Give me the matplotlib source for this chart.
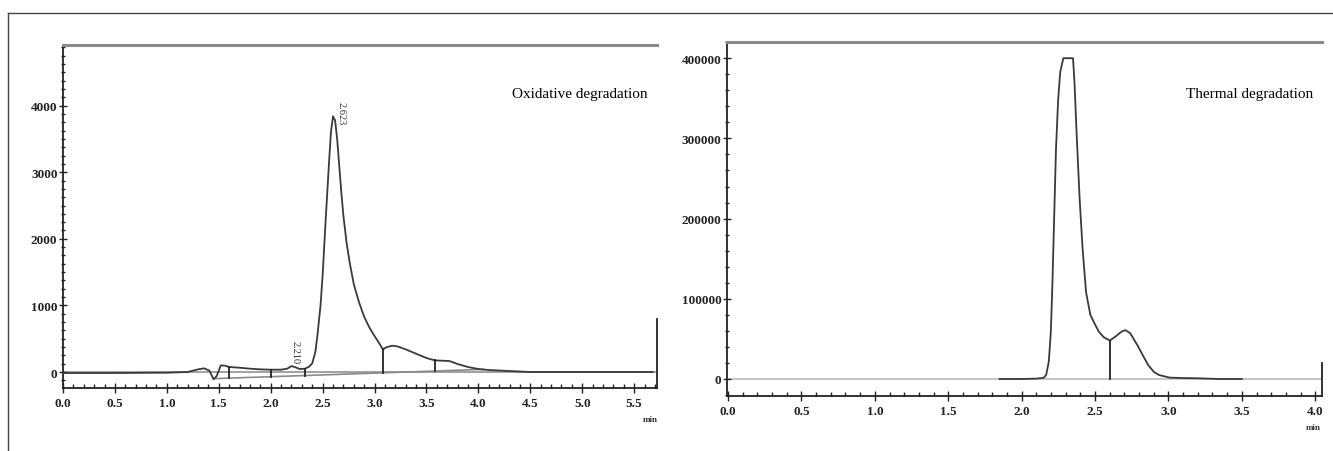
import numpy as np
import matplotlib
matplotlib.use("Agg")
import matplotlib.pyplot as plt
from matplotlib.ticker import MultipleLocator
from matplotlib.lines import Line2D

# ---- Oxidative degradation (left) ----
ox_time = [0.00, 0.50, 1.00, 1.20, 1.30, 1.36, 1.41, 1.45, 1.48, 1.52,
           1.56, 1.60, 1.70, 1.80, 1.90, 2.00, 2.10, 2.16, 2.20, 2.24,
           2.28, 2.33, 2.37, 2.40, 2.43, 2.45, 2.48, 2.50, 2.53, 2.56,
           2.58, 2.60, 2.62, 2.64, 2.66, 2.68, 2.70, 2.73, 2.76, 2.80,
           2.85, 2.90, 2.95, 3.00, 3.05, 3.08, 3.12, 3.17, 3.22, 3.30,
           3.40, 3.50, 3.58, 3.65, 3.72, 3.80, 3.90, 4.00, 4.10, 4.30,
           4.50, 5.00, 5.68]
ox_signal = [-15, -15, -10, 0, 40, 55, 20, -110, -60, 100,
             95, 75, 65, 50, 40, 35, 35, 50, 90, 70,
             45, 50, 80, 130, 300, 550, 1000, 1450, 2300, 3100,
             3600, 3840, 3780, 3500, 3100, 2700, 2350, 1950, 1650, 1320,
             1050, 830, 670, 540, 420, 340, 375, 395, 385, 340,
             275, 210, 175, 170, 165, 120, 75, 45, 30, 15,
             0, 0, 0]
ox_base_time = [1.45, 4.05]
ox_base_signal = [-100, 40]
ox_drop_time = [1.60, 2.00, 2.33, 3.08, 3.58]
ox_peak_labels = ["2.210", "2.623"]
ox_peak_time = [2.235, 2.675]
ox_peak_label_y = [300, 3890]
ox_yticks = [0, 1000, 2000, 3000, 4000]
ox_xticks = [0.0, 0.5, 1.0, 1.5, 2.0, 2.5, 3.0, 3.5, 4.0, 4.5, 5.0, 5.5]

# ---- Thermal degradation (right) ----
th_time = [1.85, 2.00, 2.10, 2.15, 2.167, 2.185, 2.199, 2.21, 2.222, 2.234,
           2.249, 2.263, 2.284, 2.35, 2.36, 2.374, 2.395, 2.415, 2.439, 2.468,
           2.50, 2.526, 2.56, 2.60, 2.64, 2.68, 2.707, 2.74, 2.789, 2.83,
           2.862, 2.90, 2.935, 3.008, 3.10, 3.20, 3.35, 3.50]
th_signal = [0, 0, 500, 1500, 5000, 21600, 59000, 121000, 204000, 287000,
             349000, 383000, 400000, 400000, 370000, 308000, 225000, 163000, 108000, 80000,
             68000, 59000, 52000, 48000, 53000, 59000, 61000, 57000, 42000, 28000,
             17400, 9000, 5000, 1700, 1200, 900, 0, 0]
th_drop_time = [2.60]
th_yticks = [0, 100000, 200000, 300000, 400000]
th_xticks = [0.0, 0.5, 1.0, 1.5, 2.0, 2.5, 3.0, 3.5, 4.0]

SERIF = ["Liberation Serif", "DejaVu Serif"]
CURVE = "#3a3a3a"

fig = plt.figure(figsize=(13.33, 4.52), dpi=100)

# outer frame lines (top and left)
fig.add_artist(Line2D([8 / 1333, 1.0], [1 - 14 / 452, 1 - 14 / 452],
                      transform=fig.transFigure, color="#444444", lw=1.0))
fig.add_artist(Line2D([8 / 1333, 8 / 1333], [0.0, 1 - 14 / 452],
                      transform=fig.transFigure, color="#444444", lw=1.0))

ax1 = fig.add_axes([63 / 1333, 1 - 389 / 452, 594 / 1333, 343 / 452])
ax2 = fig.add_axes([727 / 1333, 1 - 397 / 452, 595 / 1333, 354 / 452])


def style(ax, xticks, yticks, xminor, yminor):
    ax.set_xticks(xticks)
    ax.set_xticklabels([f"{v:.1f}" for v in xticks])
    ax.set_yticks(yticks)
    ax.set_yticklabels([str(v) for v in yticks])
    ax.xaxis.set_minor_locator(MultipleLocator(xminor))
    ax.yaxis.set_minor_locator(MultipleLocator(yminor))
    ax.tick_params(axis="x", which="major", direction="inout", length=7,
                   width=1.0, color="#222222", pad=3)
    ax.tick_params(axis="x", which="minor", direction="in", length=3,
                   width=1.0, color="#222222")
    ax.tick_params(axis="y", which="major", direction="inout", length=6,
                   width=1.0, color="#222222", pad=1)
    ax.tick_params(axis="y", which="minor", direction="inout", length=3,
                   width=1.0, color="#222222")
    for lab in ax.get_xticklabels() + ax.get_yticklabels():
        lab.set_family(SERIF)
        lab.set_fontsize(9.5)
        lab.set_fontweight("bold")
        lab.set_color("#222222")
    ax.spines["left"].set_color("#222222")
    ax.spines["left"].set_linewidth(1.3)
    ax.spines["bottom"].set_color("#222222")
    ax.spines["bottom"].set_linewidth(1.3)
    ax.spines["top"].set_color("#8a8a8a")
    ax.spines["top"].set_linewidth(2.2)
    ax.spines["right"].set_color("#222222")
    ax.spines["right"].set_linewidth(1.3)


# ---- left panel ----
ax1.set_xlim(0.0, 5.72)
ax1.set_ylim(-240, 4910)
ax1.axhline(0, color="#9a9a9a", lw=1.3, zorder=1)
ax1.plot(ox_base_time, ox_base_signal, color="#8a8a8a", lw=1.2, zorder=2)
ax1.plot(ox_time, ox_signal, color=CURVE, lw=1.3, zorder=3)
for t in ox_drop_time:
    top = np.interp(t, ox_time, ox_signal)
    bot = np.interp(t, ox_base_time, ox_base_signal)
    ax1.plot([t, t], [bot, top], color="#222222", lw=1.3, zorder=3)
for lab, t, y in zip(ox_peak_labels, ox_peak_time, ox_peak_label_y):
    ax1.text(t, y, lab, rotation=-90, ha="center", va="center",
             fontsize=7.5, family=SERIF, color="#333333")
ax1.text(0.985, 0.86, "Oxidative degradation", transform=ax1.transAxes,
         ha="right", va="center", fontsize=11, family=SERIF, color="#000000")
style(ax1, ox_xticks, ox_yticks, 0.1, 125)
ax1.spines["right"].set_bounds(-240, 800)

# ---- right panel ----
ax2.set_xlim(-0.007, 4.046)
ax2.set_ylim(-21200, 420200)
ax2.axhline(0, color="#b5b5b5", lw=1.1, zorder=1)
ax2.plot(th_time, th_signal, color=CURVE, lw=1.3, zorder=3)
for t in th_drop_time:
    top = np.interp(t, th_time, th_signal)
    ax2.plot([t, t], [0, top], color="#222222", lw=1.3, zorder=3)
ax2.text(0.985, 0.855, "Thermal degradation", transform=ax2.transAxes,
         ha="right", va="center", fontsize=11, family=SERIF, color="#000000")
style(ax2, th_xticks, th_yticks, 0.1, 20000)
ax2.spines["right"].set_bounds(-21200, 20000)

# axis unit labels
fig.text(650 / 1333, 1 - 420 / 452, "min", ha="center", va="center",
         fontsize=6.5, family=SERIF, fontweight="bold", color="#333333")
fig.text(1313 / 1333, 1 - 428 / 452, "min", ha="center", va="center",
         fontsize=6.5, family=SERIF, fontweight="bold", color="#333333")

fig.savefig("out.png", dpi=100)
